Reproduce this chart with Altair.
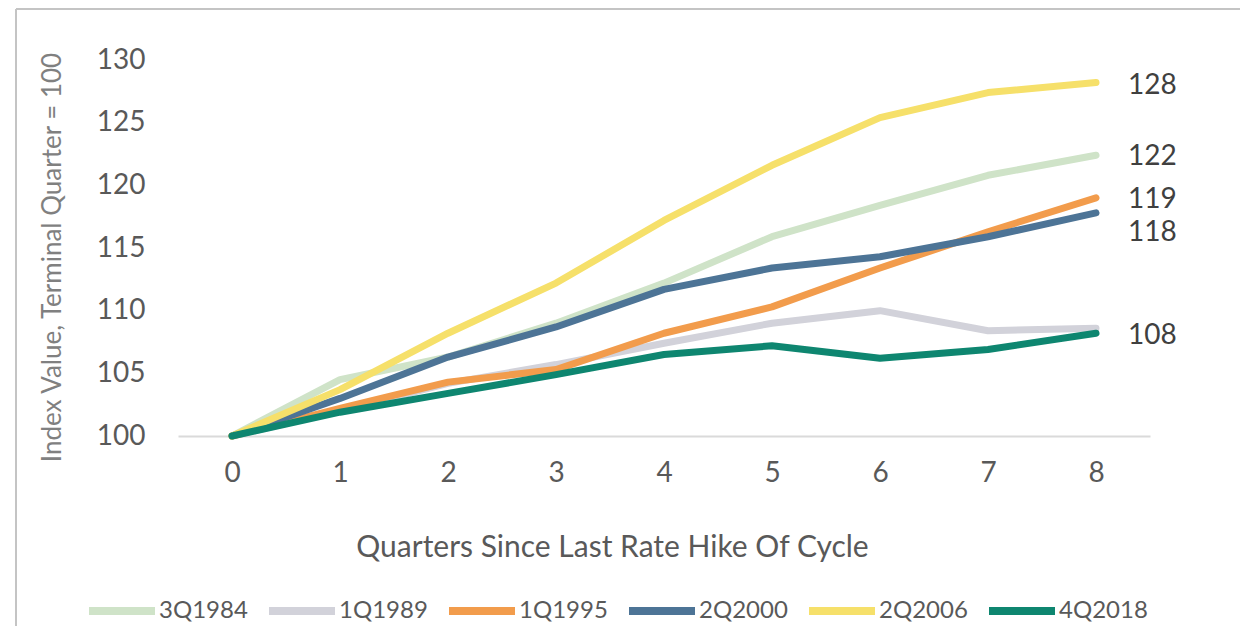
import altair as alt
import pandas as pd

quarters = [0, 1, 2, 3, 4, 5, 6, 7, 8]
series_names = ["3Q1984", "1Q1989", "1Q1995", "2Q2000", "2Q2006", "4Q2018"]
colors = ["#cfe3c8", "#d2d2da", "#f29c4c", "#4d7496", "#f6e06a", "#0e8670"]

v_3q1984 = [100, 104.5, 106.3, 109.0, 112.2, 115.9, 118.4, 120.8, 122.4]
v_1q1989 = [100, 102.0, 104.2, 105.7, 107.4, 109.0, 110.0, 108.4, 108.6]
v_1q1995 = [100, 102.2, 104.3, 105.3, 108.2, 110.3, 113.4, 116.3, 119.0]
v_2q2000 = [100, 103.0, 106.3, 108.7, 111.7, 113.4, 114.3, 115.9, 117.8]
v_2q2006 = [100, 103.7, 108.2, 112.2, 117.2, 121.6, 125.4, 127.4, 128.2]
v_4q2018 = [100, 101.9, 103.4, 104.9, 106.5, 107.2, 106.2, 106.9, 108.2]

# end-of-line labels and the index level each one sits at
end_labels = ["128", "122", "119", "118", "108"]
end_label_level = [127.9, 122.3, 118.8, 116.2, 108.0]

FONT = "Lato"

all_values = [v_3q1984, v_1q1989, v_1q1995, v_2q2000, v_2q2006, v_4q2018]
rows = []
for name, vals in zip(series_names, all_values):
    for q, v in zip(quarters, vals):
        rows.append({"series": name, "quarter": q, "value": v})
df = pd.DataFrame(rows)

lab_df = pd.DataFrame({"label": end_labels, "value": end_label_level,
                       "quarter": [quarters[-1]] * len(end_labels)})

x_scale = alt.Scale(domain=[-0.5, 8.5], nice=False, zero=False)
y_scale = alt.Scale(domain=[100, 130], nice=False, zero=False)

lines = alt.Chart(df).mark_line(strokeWidth=7, strokeCap="round", strokeJoin="round").encode(
    x=alt.X("quarter:Q", scale=x_scale,
            axis=alt.Axis(values=quarters, format="d", title="Quarters Since Last Rate Hike Of Cycle",
                          grid=False, ticks=False, domain=True, domainColor="#dadada", domainWidth=2,
                          labelFont=FONT, labelFontSize=28, labelColor="#595959",
                          labelBaseline="middle", labelPadding=37,
                          titleFont=FONT, titleFontSize=30, titleFontWeight="normal", titleColor="#595959",
                          titleX=434, titleY=111, titleAlign="center", titleBaseline="middle")),
    y=alt.Y("value:Q", scale=y_scale,
            axis=alt.Axis(values=[100, 105, 110, 115, 120, 125, 130], format="d",
                          title="Index Value, Terminal Quarter = 100",
                          grid=False, ticks=False, domain=False,
                          labelFont=FONT, labelFontSize=28, labelColor="#595959", labelPadding=33,
                          titleFont=FONT, titleFontSize=26, titleFontWeight="normal", titleColor="#808080",
                          titleX=-126, titleY=197, titleAngle=-90, titleAlign="center",
                          titleBaseline="middle")),
    color=alt.Color("series:N", scale=alt.Scale(domain=series_names, range=colors),
                    sort=series_names,
                    legend=alt.Legend(title=None, orient="none", direction="horizontal",
                                      legendX=-93, legendY=514,
                                      symbolType="stroke", symbolSize=4356, symbolStrokeWidth=8,
                                      labelFont=FONT, labelFontSize=24, labelColor="#595959",
                                      labelOffset=0, columnPadding=5)),
    order=alt.Order("quarter:Q"),
)

labels = alt.Chart(lab_df).mark_text(align="left", baseline="middle", font=FONT, fontSize=28,
                                     color="#404040", dx=32).encode(
    x=alt.X("quarter:Q", scale=x_scale),
    y=alt.Y("value:Q", scale=y_scale),
    text="label:N",
)

frame_df = pd.DataFrame({"k": [0]})
left_line = alt.Chart(frame_df).mark_rule(color="#c4c4c4", strokeWidth=2).encode(
    x=alt.value(-162), y=alt.value(-51), y2=alt.value(600))
top_line = alt.Chart(frame_df).mark_rule(color="#c4c4c4", strokeWidth=2).encode(
    x=alt.value(-162), x2=alt.value(1100), y=alt.value(-51))

chart = alt.layer(left_line, top_line, lines, labels).properties(
    width=972, height=376,
    autosize=alt.AutoSizeParams(type="none"),
    padding={"left": 170, "top": 52, "right": 90, "bottom": 190},
).configure(font=FONT).configure_view(stroke=None)

chart.save("out.html", embed_options={"renderer": "svg", "actions": False})
